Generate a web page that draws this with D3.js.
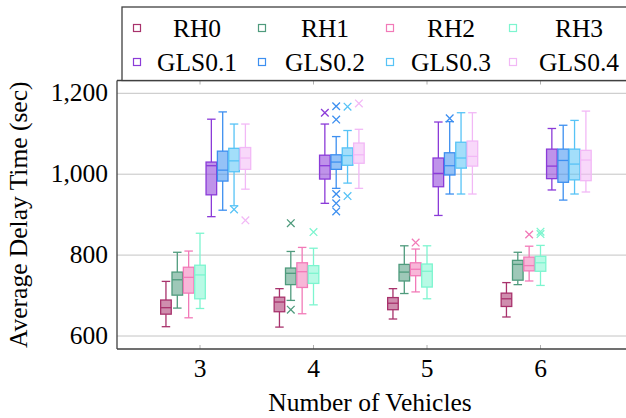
<!DOCTYPE html>
<html lang="en">
  <head>
    <meta charset="UTF-8" />
    <title>Average Delay Time</title>
    <script src="https://d3js.org/d3.v7.min.js"></script>
    <style>
      body { margin: 0; background: #fff; }
      svg { display: block; font-family: "Liberation Serif", "DejaVu Serif", serif; }
    </style>
  </head>
  <body>
    <svg width="626" height="418"></svg>
    <script>
      // vehicles on the x axis
      let categories = [3, 4, 5, 6];
      let yTicks = [600, 800, 1000, 1200];
      let seriesNames = ["RH0", "RH1", "RH2", "RH3", "GLS0.1", "GLS0.2", "GLS0.3", "GLS0.4"];
      let colors = ["#a8326c", "#4f9b7d", "#f27ab8", "#7df5cf", "#8b3bd8", "#3d8ff0", "#57c3f6", "#f2b8f6"];

      // [lower whisker, q1, median, q3, upper whisker] for 3,4,5,6 vehicles
      let rh0 = [[623, 654, 670, 689, 735], [622, 660, 684, 696, 717], [642, 665, 681, 695, 717], [647, 673, 692, 706, 732]];
      let rh1 = [[669, 701, 739, 758, 807], [688, 727, 755, 768, 809], [705, 736, 758, 777, 823], [727, 738, 777, 787, 807]];
      let rh2 = [[645, 706, 745, 770, 810], [655, 720, 759, 781, 819], [709, 749, 765, 781, 815], [736, 761, 774, 795, 822]];
      let rh3 = [[668, 692, 751, 775, 854], [677, 730, 755, 774, 817], [692, 721, 760, 778, 823], [725, 760, 781, 797, 824]];
      let gls1 = [[895, 949, 1021, 1030, 1136], [928, 988, 1021, 1047, 1124], [898, 969, 1002, 1040, 1129], [961, 989, 1020, 1062, 1113]];
      let gls2 = [[911, 983, 1010, 1057, 1154], [965, 1012, 1030, 1048, 1093], [951, 998, 1021, 1053, 1130], [936, 980, 1034, 1062, 1121]];
      let gls3 = [[922, 1006, 1033, 1064, 1124], [978, 1022, 1046, 1065, 1108], [951, 1015, 1040, 1079, 1152], [951, 986, 1025, 1062, 1133]];
      let gls4 = [[963, 1012, 1040, 1066, 1124], [965, 1027, 1048, 1077, 1111], [951, 1020, 1044, 1082, 1152], [956, 984, 1035, 1059, 1156]];

      // outliers per series, per vehicle count
      let rh0Out = [[], [], [], []];
      let rh1Out = [[], [879, 665], [], []];
      let rh2Out = [[], [], [831], [851]];
      let rh3Out = [[], [857], [], [858, 852]];
      let gls1Out = [[], [1152], [], []];
      let gls2Out = [[], [1168, 1135, 951, 928, 908], [1138], []];
      let gls3Out = [[913], [1167, 946], [], []];
      let gls4Out = [[886], [1175], [], []];

      let stats = [rh0, rh1, rh2, rh3, gls1, gls2, gls3, gls4];
      let outliers = [rh0Out, rh1Out, rh2Out, rh3Out, gls1Out, gls2Out, gls3Out, gls4Out];
      let offsets = [-0.3, -0.2, -0.1, 0, 0.1, 0.2, 0.3, 0.4];

      let svg = d3.select("svg");
      let plotLeft = 117, plotRight = 660, plotTop = 80.5, plotBottom = 349;

      let x = d3.scaleLinear().domain([3, 6]).range([200, 540.5]);
      let y = d3.scaleLinear().domain([600, 1200]).range([336, 93.3]);

      // grid
      svg.append("g")
        .selectAll("line")
        .data(yTicks)
        .enter()
        .append("line")
        .attr("x1", plotLeft).attr("x2", plotRight)
        .attr("y1", (d) => y(d)).attr("y2", (d) => y(d))
        .attr("stroke", "#c4c4c4")
        .attr("stroke-width", 1);

      // tick marks
      svg.append("g")
        .selectAll("line")
        .data(categories)
        .enter()
        .append("line")
        .attr("x1", (d) => x(d)).attr("x2", (d) => x(d))
        .attr("y1", plotBottom).attr("y2", plotBottom - 4)
        .attr("stroke", "#b0b0b0");
      svg.append("g")
        .selectAll("line")
        .data(categories)
        .enter()
        .append("line")
        .attr("x1", (d) => x(d)).attr("x2", (d) => x(d))
        .attr("y1", plotTop).attr("y2", plotTop + 4)
        .attr("stroke", "#b0b0b0");

      let bw = 10.6, cap = 8.5;

      stats.forEach((series, si) => {
        let col = colors[si];
        let g = svg.append("g").attr("class", "series-" + si);
        series.forEach((s, ci) => {
          let cx = x(categories[ci] + offsets[si]);
          // whiskers
          g.append("line")
            .attr("x1", cx).attr("x2", cx)
            .attr("y1", y(s[0])).attr("y2", y(s[1]))
            .attr("stroke", col).attr("stroke-width", 1.3);
          g.append("line")
            .attr("x1", cx).attr("x2", cx)
            .attr("y1", y(s[3])).attr("y2", y(s[4]))
            .attr("stroke", col).attr("stroke-width", 1.3);
          [s[0], s[4]].forEach((v) => {
            g.append("line")
              .attr("x1", cx - cap / 2).attr("x2", cx + cap / 2)
              .attr("y1", y(v)).attr("y2", y(v))
              .attr("stroke", col).attr("stroke-width", 1.3);
          });
          // box
          g.append("rect")
            .attr("x", cx - bw / 2)
            .attr("y", y(s[3]))
            .attr("width", bw)
            .attr("height", y(s[1]) - y(s[3]))
            .attr("fill", col)
            .attr("fill-opacity", 0.55)
            .attr("stroke", col)
            .attr("stroke-width", 1.3);
          g.append("line")
            .attr("x1", cx - bw / 2).attr("x2", cx + bw / 2)
            .attr("y1", y(s[2])).attr("y2", y(s[2]))
            .attr("stroke", col).attr("stroke-width", 1.3);
          // outliers
          outliers[si][ci].forEach((v) => {
            let r = 3.8;
            g.append("path")
              .attr("d", `M${cx - r},${y(v) - r}L${cx + r},${y(v) + r}M${cx - r},${y(v) + r}L${cx + r},${y(v) - r}`)
              .attr("stroke", col).attr("stroke-width", 1.3).attr("fill", "none");
          });
        });
      });

      // axis lines
      svg.append("line")
        .attr("x1", plotLeft).attr("x2", plotLeft).attr("y1", plotTop).attr("y2", plotBottom)
        .attr("stroke", "#404040").attr("stroke-width", 1.3);
      svg.append("line")
        .attr("x1", plotLeft).attr("x2", plotRight).attr("y1", plotBottom).attr("y2", plotBottom)
        .attr("stroke", "#404040").attr("stroke-width", 1.3);
      svg.append("line")
        .attr("x1", plotLeft).attr("x2", plotRight).attr("y1", plotTop).attr("y2", plotTop)
        .attr("stroke", "#404040").attr("stroke-width", 1.3);

      // tick labels
      svg.append("g")
        .selectAll("text")
        .data(yTicks)
        .enter()
        .append("text")
        .attr("x", 108)
        .attr("y", (d) => y(d) + 8)
        .attr("text-anchor", "end")
        .attr("font-size", 25.5)
        .text((d) => d3.format(",")(d));
      svg.append("g")
        .selectAll("text")
        .data(categories)
        .enter()
        .append("text")
        .attr("x", (d) => x(d))
        .attr("y", 377)
        .attr("text-anchor", "middle")
        .attr("font-size", 25.5)
        .text((d) => d);

      // axis titles
      svg.append("text")
        .attr("x", 370)
        .attr("y", 411)
        .attr("text-anchor", "middle")
        .attr("font-size", 25.5)
        .text("Number of Vehicles");
      svg.append("text")
        .attr("transform", "translate(27," + (plotTop + plotBottom) / 2 + ") rotate(-90)")
        .attr("text-anchor", "middle")
        .attr("font-size", 25.5)
        .text("Average Delay Time (sec)");

      // legend
      let legend = svg.append("g");
      legend.append("rect")
        .attr("x", 122).attr("y", 7)
        .attr("width", 540).attr("height", 73.5)
        .attr("fill", "#fff")
        .attr("stroke", "#404040").attr("stroke-width", 1.3);
      let sqX = [137, 262, 390, 513];
      let txtX = [197, 325, 451, 579];
      let rowY = [28, 62];
      seriesNames.forEach((name, i) => {
        let c = i % 4, r = Math.floor(i / 4);
        legend.append("rect")
          .attr("x", sqX[c] - 3.5).attr("y", rowY[r] - 3.5)
          .attr("width", 7).attr("height", 7)
          .attr("fill", "#fff")
          .attr("stroke", colors[i]).attr("stroke-width", 1.2);
        legend.append("text")
          .attr("x", txtX[c]).attr("y", rowY[r] + 9)
          .attr("text-anchor", "middle")
          .attr("font-size", 25.5)
          .text(name);
      });
    </script>
  </body>
</html>
